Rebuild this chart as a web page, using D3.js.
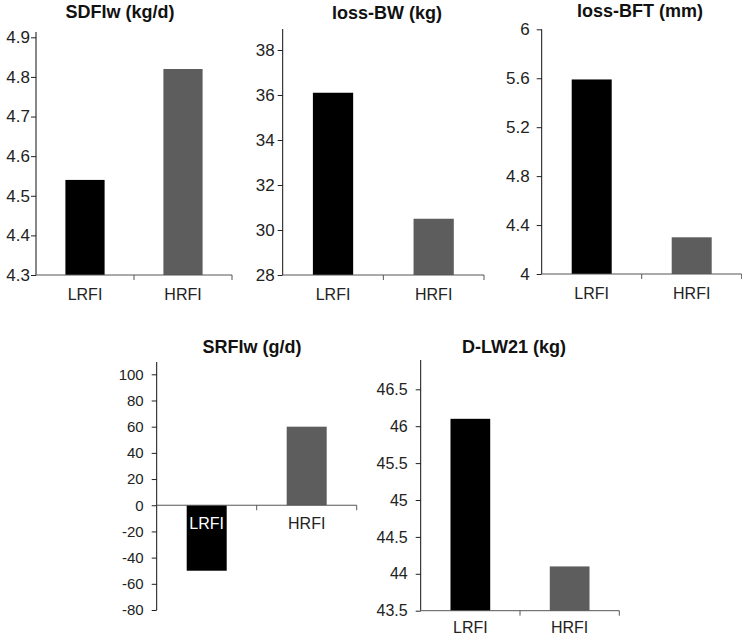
<!DOCTYPE html>
<html>
<head>
<meta charset="utf-8">
<script src="https://cdn.jsdelivr.net/npm/d3@7"></script>
<style>
  body { margin: 0; background: #fff; }
  svg { display: block; font-family: "Liberation Sans", Arial, sans-serif; }
</style>
</head>
<body>
<div id="chart"></div>
<script>
// groups and values for each small chart
var groups = ["LRFI", "HRFI"];
var barColors = ["#000000", "#5d5d5d"];

var sdfiw = [4.54, 4.82];
var sdfiwTicks = [4.3, 4.4, 4.5, 4.6, 4.7, 4.8, 4.9];

var lossBW = [36.1, 30.5];
var lossBWTicks = [28, 30, 32, 34, 36, 38];

var lossBFT = [5.59, 4.3];
var lossBFTTicks = [4, 4.4, 4.8, 5.2, 5.6, 6];

var srfiw = [-50, 60];
var srfiwTicks = [-80, -60, -40, -20, 0, 20, 40, 60, 80, 100];

var dlw21 = [46.1, 44.1];
var dlw21Ticks = [43.5, 44, 44.5, 45, 45.5, 46, 46.5];

// plain number text, hyphen for negatives like the source
var plain = function (d) { return String(+d.toFixed(2)); };
var oneDec = function (d) { return d.toFixed(1); };

// layout of each panel (pixels)
var panels = [
  {title: "SDFIw (kg/d)", values: sdfiw, ticks: sdfiwTicks, fmt: oneDec,
   left: 36, right: 232, yMin: 275, yMax: 37.3, top: 32, titleX: 120, titleY: 18,
   labelGap: 6, tickFont: 17, catDy: 25},
  {title: "loss-BW (kg)", values: lossBW, ticks: lossBWTicks, fmt: plain,
   left: 282.7, right: 484, yMin: 275, yMax: 50, top: 29, titleX: 387, titleY: 19,
   labelGap: 8, tickFont: 17, catDy: 25},
  {title: "loss-BFT (mm)", values: lossBFT, ticks: lossBFTTicks, fmt: plain,
   left: 541.7, right: 741.7, yMin: 274, yMax: 29.3, top: 29.3, titleX: 640, titleY: 17,
   labelGap: 12, tickFont: 17, catDy: 25},
  {title: "SRFIw (g/d)", values: srfiw, ticks: srfiwTicks, fmt: plain,
   left: 156.7, right: 356.7, yMin: 610, yMax: 374.3, top: 362, titleX: 252, titleY: 353,
   labelGap: 13, tickFont: 15, baseValue: 0, catDy: 24},
  {title: "D-LW21 (kg)", values: dlw21, ticks: dlw21Ticks, fmt: plain,
   left: 420.7, right: 619.3, yMin: 610.7, yMax: 389.3, top: 360, titleX: 514, titleY: 353,
   labelGap: 13, tickFont: 16, catDy: 22}
];

var svg = d3.select("#chart").append("svg")
    .attr("width", 742)
    .attr("height", 637);

panels.forEach(function (p) {
    var g = svg.append("g");
    var ticks = p.ticks;

    var y = d3.scaleLinear()
        .domain([ticks[0], ticks[ticks.length - 1]])
        .range([p.yMin, p.yMax]);

    var x = d3.scaleBand()
        .domain(groups)
        .range([p.left, p.right])
        .paddingInner(0.6)
        .paddingOuter(0.3);

    var base = p.baseValue !== undefined ? p.baseValue : ticks[0];
    var yBase = y(base);

    // bars
    g.selectAll("rect").data(groups).enter().append("rect")
        .attr("x", function (d) { return x(d); })
        .attr("width", x.bandwidth())
        .attr("y", function (d, i) { return Math.min(y(p.values[i]), yBase); })
        .attr("height", function (d, i) { return Math.abs(y(p.values[i]) - yBase); })
        .style("fill", function (d, i) { return barColors[i]; });

    // y axis
    var yAxis = d3.axisLeft(y)
        .tickValues(ticks)
        .tickSize(5)
        .tickSizeOuter(0)
        .tickPadding(p.labelGap - 5)
        .tickFormat(p.fmt);

    var ya = g.append("g")
        .attr("transform", "translate(" + p.left + ",0)")
        .call(yAxis);
    ya.select(".domain").remove();
    ya.selectAll(".tick line").attr("stroke", "#222");
    ya.selectAll(".tick text")
        .style("font-size", p.tickFont + "px")
        .style("fill", "#222");
    ya.append("line")
        .attr("x1", 0).attr("x2", 0)
        .attr("y1", y(ticks[0])).attr("y2", p.top)
        .attr("stroke", "#111");

    // x axis (category boundaries carry the ticks)
    var half = x.step() / 2;
    var bounds = groups.map(function (d) { return x(d) + x.bandwidth() / 2 + half; });

    g.append("line")
        .attr("x1", p.left).attr("x2", p.right)
        .attr("y1", yBase).attr("y2", yBase)
        .attr("stroke", "#555");

    g.selectAll(".xtick").data(bounds).enter().append("line")
        .attr("class", "xtick")
        .attr("x1", function (d) { return d; }).attr("x2", function (d) { return d; })
        .attr("y1", yBase).attr("y2", yBase + 5)
        .attr("stroke", "#555");

    g.selectAll(".xlabel").data(groups).enter().append("text")
        .attr("class", "xlabel")
        .attr("x", function (d) { return x(d) + x.bandwidth() / 2; })
        .attr("y", yBase + p.catDy)
        .attr("text-anchor", "middle")
        .style("font-size", "16px")
        .style("fill", function (d, i) { return p.values[i] < base ? "#ffffff" : "#222"; })
        .text(function (d) { return d; });

    // title
    g.append("text")
        .attr("x", p.titleX)
        .attr("y", p.titleY)
        .attr("text-anchor", "middle")
        .style("font-size", "18px")
        .style("font-weight", "bold")
        .style("fill", "#111")
        .text(p.title);
});
</script>
</body>
</html>
